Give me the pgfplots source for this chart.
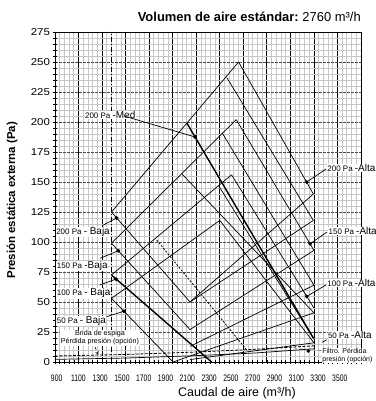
\documentclass[border=0pt]{standalone}
\usepackage{fontspec}
\setmainfont{Liberation Sans}
\newfontfamily\narrowfont[FakeStretch=0.72]{Liberation Sans}
\newfontfamily\widefont[FakeStretch=1.15]{Liberation Sans}
\usepackage{pgfplots}
\pgfplotsset{compat=1.18}
\pgfplotsset{
  fan/.style={black, line width=0.7bp, no marks},
  fanthick/.style={black, line width=1.4bp, no marks},
}
\tikzset{lbl/.style={fill=white, inner sep=0.5bp, anchor=west}}
\newcommand{\pa}[2]{{\fontsize{8}{9}\selectfont #1 }{\fontsize{10}{11}\selectfont #2}}
\begin{document}
\begin{tikzpicture}
\useasboundingbox (-55bp,-39bp) rectangle (321bp,362bp);
\begin{axis}[
  at={(0,0)}, anchor=south west,
  width=306bp, height=330bp, scale only axis,
  xmin=900, xmax=3500, ymin=0, ymax=275,
  clip=false,
  axis line style={black, line width=0.8bp},
  xtick={900,1100,...,3500}, xticklabels={},
  ytick={0,25,...,275},
  minor x tick num=4, minor y tick num=4,
  grid=both,
  minor grid style={gray!45, line width=0.8bp},
  major x grid style={black, line width=0.7bp},
  major y grid style={gray!60!black, line width=0.9bp, dash pattern=on 3bp off 1bp},
  tick pos=left, tick align=center,
  major tick length=3bp, minor tick length=3bp,
  tick style={black, line width=0.6bp},
  /pgf/number format/assume math mode=true,
  yticklabel style={font=\widefont\fontsize{10}{10}\selectfont},
  xticklabel style={font=\narrowfont\fontsize{9.5}{10}\selectfont, yshift=-9bp},
  extra x ticks={914,1099,1284,1469,1654,1839,2024,2210,2395,2580,2765,2950,3135,3320},
  extra x tick labels={900,1100,1300,1500,1700,1900,2100,2300,2500,2700,2900,3100,3300,3500},
  extra x tick style={grid=none, major tick length=0pt},
]
% limite 50 %
\addplot[black, line width=0.8bp, dash pattern=on 5bp off 2bp on 1bp off 2bp] coordinates {(1380,0) (1380,275)};

% 200 Pa
\addplot[fan] coordinates {(1380,125) (2460,250)};
\addplot[fan] coordinates {(2460,250) (3095,140)};
\addplot[fan] coordinates {(2360,237) (3095,118)};
\addplot[fan] coordinates {(1380,125) (2047,50)};
\addplot[fan] coordinates {(2047,50) (3095,140)};
\addplot[fan] coordinates {(2047,50) (3095,118)};
\addplot[fanthick] coordinates {(2021,199) (3095,20)};

% 150 Pa
\addplot[fan] coordinates {(1380,99) (2440,202)};
\addplot[fan] coordinates {(2440,202) (3100,93)};
\addplot[fan] coordinates {(2320,191) (3100,64)};
\addplot[fan] coordinates {(1976,157) (3100,41)};
\addplot[fan] coordinates {(1380,99) (2047,27)};
\addplot[fan] coordinates {(2047,27) (3100,93)};

% 100 Pa
\addplot[fan] coordinates {(1380,72.5) (2400,156)};
\addplot[fan] coordinates {(2400,156) (3100,45)};
\addplot[fan] coordinates {(2290,147) (3100,19)};
\addplot[fanthick] coordinates {(1380,72.5) (2230,0)};
\addplot[fan] coordinates {(2047,13) (3100,64)};

% 50 Pa
\addplot[fan] coordinates {(1380,53) (2300,118)};
\addplot[fan] coordinates {(2300,118) (3100,16)};
\addplot[fan] coordinates {(1380,53) (1903,0)};
\addplot[fan] coordinates {(2047,2) (3100,16)};
\addplot[fan] coordinates {(1903,0) (3100,41)};

% caudal nominal
\addplot[black, line width=0.8bp, dash pattern=on 2bp off 1.5bp] coordinates {(1764,101.7) (2529,10)};

% perdidas de presion (opcion)
\addplot[black, line width=0.8bp, dash pattern=on 3bp off 1.5bp] coordinates {(900,5) (1500,6.3) (2100,8.3) (2600,10.6) (3100,13.5)};
\addplot[fan] coordinates {(900,2.2) (1500,3.3) (2100,5.3) (2600,7.5) (3100,11)};

% etiquetas
\node[lbl] at (axis cs:1150,205.8) {\pa{200 Pa}{-Med}};
\node[lbl] at (axis cs:905,108.3) {\pa{200 Pa}{- Baja}};
\node[lbl] at (axis cs:910,80) {\pa{150 Pa}{-Baja}};
\node[lbl] at (axis cs:910,57.2) {\pa{100 Pa}{- Baja}};
\node[lbl] at (axis cs:910,34.4) {\pa{50 Pa}{- Baja}};
\node[fill=white, inner sep=0.5bp, align=center, font=\fontsize{7.2}{8.5}\selectfont] at (axis cs:1282,20.3) {Brida de espiga\\Pérdida presión (opción)};
\node[lbl] at (axis cs:3209,161.9) {\pa{200 Pa}{-Alta}};
\node[lbl] at (axis cs:3220,109.4) {\pa{150 Pa}{-Alta}};
\node[lbl] at (axis cs:3209,65.6) {\pa{100 Pa}{-Alta}};
\node[lbl] at (axis cs:3214,22.5) {\pa{50 Pa}{-Alta}};
\node[fill=white, inner sep=0.5bp, anchor=west, align=left, font=\fontsize{7}{8}\selectfont] at (axis cs:3166,5.5) {Filtro. Pérdida\\presión (opción)};

% flechas
\draw[line width=0.7bp] (axis cs:1486,205) -- (axis cs:2090,187.5);
\draw[line width=0.7bp] (axis cs:1308,114) -- (axis cs:1424,120);
\draw[line width=0.7bp] (axis cs:1282,86.4) -- (axis cs:1438,92.7);
\draw[line width=0.7bp] (axis cs:1282,64.2) -- (axis cs:1418,69.1);
\draw[line width=0.7bp] (axis cs:1339,37.8) -- (axis cs:1486,42.3);
\draw[line width=0.6bp, dashed, -stealth] (axis cs:1240,12.5) -- (axis cs:1268,6);
\draw[line width=0.7bp] (axis cs:3203,160.8) -- (axis cs:3039,150);
\draw[line width=0.7bp] (axis cs:3211,108.3) -- (axis cs:3067,98.5);
\draw[line width=0.7bp] (axis cs:3203,64.2) -- (axis cs:3039,54.7);
\draw[line width=0.7bp] (axis cs:3209,18.5) -- (axis cs:3170,16.5);
\draw[line width=0.6bp, gray, dashed] (axis cs:3160,9.5) -- (axis cs:2920,11.7);

\addplot[only marks, mark=*, mark size=1.7bp, black] coordinates {
  (1424,120) (1438,92.7) (1418,69.1) (1486,42.3) (2090,187.5)
  (3039,150) (3067,98.5) (3039,54.7) (3052,9.2)};

% titulo y ejes
\node[anchor=base east, inner sep=0pt] at (rel axis cs:1,1) [yshift=10bp]
  {{\bfseries\fontsize{13}{14}\selectfont Volumen de aire estándar:} {\fontsize{13}{14}\selectfont 2760 m³/h}};
\node[rotate=90, font=\bfseries\fontsize{11.5}{13}\selectfont] at ([xshift=-43bp]rel axis cs:0,0.49) {Presión estática externa (Pa)};
\node[anchor=base, font=\fontsize{12.5}{14}\selectfont] at (axis cs:2446,0) [yshift=-34bp] {Caudal de aire (m³/h)};
\end{axis}
\end{tikzpicture}
\end{document}
